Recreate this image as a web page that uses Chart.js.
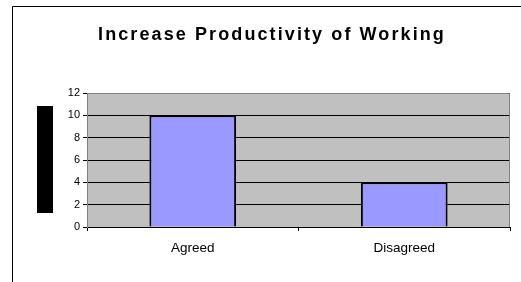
<!DOCTYPE html>
<html><head><meta charset="utf-8">
<script src="https://cdn.jsdelivr.net/npm/chart.js@4"></script>
<style>html,body{margin:0;padding:0;background:#fff}#wrap{width:521px;height:282px}</style>
</head><body><div id="wrap"><canvas id="c" width="521" height="282"></canvas></div>
<script>
const categories = ["Agreed", "Disagreed"];
const values = [10, 4];
const yTicks = [0, 2, 4, 6, 8, 10, 12];
const titleText = "Increase Productivity of Working";
const FONT = 'Liberation Sans, Arial, sans-serif';

const deco = {
  id: 'deco',
  beforeDraw(chart) {
    const {ctx, chartArea: a} = chart;
    ctx.save();
    ctx.fillStyle = '#C0C0C0';
    ctx.fillRect(a.left, a.top, a.right - a.left, a.bottom - a.top);
    ctx.restore();
  },
  afterDraw(chart) {
    const {ctx, chartArea: a} = chart;
    ctx.save();
    ctx.strokeStyle = '#808080';
    ctx.lineWidth = 1;
    ctx.beginPath();
    ctx.moveTo(a.left, a.top + 0.5); ctx.lineTo(a.right - 0.5, a.top + 0.5); ctx.lineTo(a.right - 0.5, a.bottom);
    ctx.stroke();
    ctx.strokeStyle = '#000';
    ctx.beginPath();
    ctx.moveTo(12.5, 282); ctx.lineTo(12.5, 6.5); ctx.lineTo(521, 6.5);
    ctx.stroke();
    ctx.fillStyle = '#000';
    ctx.fillRect(37, 106, 16, 107);
    // title
    ctx.textAlign = 'center';
    ctx.textBaseline = 'middle';
    ctx.font = 'bold 18px ' + FONT;
    ctx.letterSpacing = '2.1px';
    ctx.fillText(titleText, 272, 35);
    // x category labels
    ctx.font = '13.5px ' + FONT;
    ctx.letterSpacing = '0px';
    const xs = chart.scales.x;
    categories.forEach((c, i) => {
      ctx.fillText(c, xs.getPixelForValue(i), a.bottom + 21);
    });
    ctx.restore();
  }
};

new Chart(document.getElementById('c'), {
  type: 'bar',
  data: {
    labels: categories,
    datasets: [{
      data: values,
      backgroundColor: '#9999FF',
      borderColor: '#000000',
      borderWidth: 2,
      barPercentage: 0.41,
      categoryPercentage: 1
    }]
  },
  options: {
    responsive: false,
    animation: false,
    layout: {padding: {left: 31, right: 11, top: 93, bottom: 15}},
    plugins: {
      legend: {display: false},
      tooltip: {enabled: false},
      title: {display: false}
    },
    scales: {
      x: {
        afterFit(s) { s.height = 40; },
        grid: {offset: true, drawOnChartArea: false, color: '#000', tickLength: 4},
        border: {color: '#000'},
        ticks: {display: false}
      },
      y: {
        min: 0, max: 12,
        afterFit(s) { s.width = 56; },
        afterBuildTicks(s) { s.ticks = yTicks.map(v => ({value: v})); },
        grid: {color: '#000', tickLength: 4},
        border: {color: '#808080'},
        ticks: {color: '#000', padding: 3, font: {family: FONT, size: 11}}
      }
    }
  },
  plugins: [deco]
});
</script></body></html>
